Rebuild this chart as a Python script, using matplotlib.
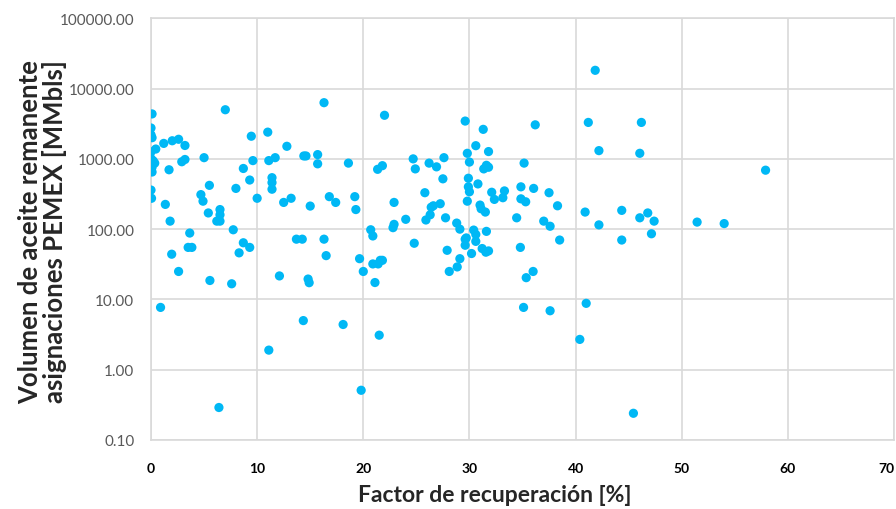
import numpy as np
import matplotlib.pyplot as plt
from matplotlib.ticker import FixedLocator, NullLocator

# Factor de recuperacion [%] vs volumen remanente [MMbls]
factor = [
    0.1, 0.0, 0.0, 0.1, 1.2, 2.0, 2.6, 3.2, 0.45, 0.0,
    0.0, 0.2, 0.0, 0.35, 0.0, 0.1, 0.0, 0.1, 1.7, 3.2,
    2.9, 5.0, 0.0, 0.05, 1.35, 5.5, 4.7, 4.9, 1.8, 5.4,
    6.5, 6.5, 6.2, 6.5, 7.0, 3.65, 7.75, 3.5, 3.85, 1.95,
    2.6, 0.9, 6.4, 5.55, 7.6, 8.0, 9.45, 11.0, 12.8, 9.6,
    8.7, 9.3, 11.1, 11.7, 14.4, 14.6, 15.7, 15.7, 11.4, 11.4,
    11.4, 10.0, 12.5, 13.2, 15.0, 16.8, 17.4, 8.7, 8.3, 9.3,
    13.7, 14.25, 16.3, 16.5, 12.1, 14.8, 14.9, 14.35, 11.1, 16.3,
    22.0, 29.6, 31.3, 30.6, 31.8, 29.8, 30.0, 18.6, 21.35, 21.8,
    24.7, 24.9, 26.2, 26.9, 27.6, 27.5, 31.35, 31.6, 31.8, 29.9,
    30.8, 29.9, 30.0, 29.8, 32.1, 32.35, 33.15, 33.3, 34.85, 34.85,
    35.3, 25.8, 22.9, 19.2, 19.3, 27.25, 26.6, 26.4, 26.3, 25.9,
    24.0, 22.9, 22.8, 27.75, 28.8, 31.0, 31.1, 31.5, 34.45, 19.65,
    20.0, 20.7, 20.9, 20.9, 21.4, 21.6, 21.8, 21.1, 18.1, 21.5,
    19.8, 24.8, 27.9, 28.1, 28.85, 29.1, 29.1, 29.7, 29.6, 29.6,
    30.2, 30.4, 30.6, 30.6, 31.2, 31.55, 31.8, 31.6, 34.8, 41.85,
    36.2, 41.2, 46.2, 42.2, 46.05, 35.15, 36.05, 37.5, 38.3, 37.0,
    37.6, 40.9, 42.2, 44.35, 46.05, 46.8, 47.4, 51.45, 36.0, 35.35,
    38.5, 44.35, 47.15, 35.1, 37.6, 41.0, 40.4, 45.45, 57.9, 54.0,
]
volumen = [
    4360, 2750, 2200, 2000, 1660, 1810, 1900, 1550, 1380, 1260,
    1010, 940, 900, 870, 810, 760, 680, 650, 700, 980,
    910, 1040, 360, 275, 225, 420, 310, 250, 130, 170,
    190, 160, 130, 130, 5000, 88, 98, 55, 55, 44,
    25, 7.7, 0.29, 18.6, 16.7, 380, 2100, 2400, 1510, 945,
    730, 500, 945, 1040, 1100, 1100, 1150, 850, 540, 460,
    370, 275, 240, 275, 213, 290, 240, 64, 46, 55,
    72, 72, 72, 42, 21.6, 19.5, 17.3, 5.0, 1.9, 6300,
    4170, 3450, 2630, 1540, 1270, 1200, 900, 870, 710, 800,
    1000, 720, 870, 770, 1040, 520, 720, 810, 760, 530,
    440, 400, 340, 250, 335, 265, 280, 350, 400, 270,
    245, 330, 240, 290, 190, 230, 215, 205, 160, 135,
    138, 117, 105, 145, 122, 220, 195, 175, 145, 38,
    25, 98, 80, 32, 32, 36, 36, 17.4, 4.4, 3.1,
    0.51, 63, 50, 25, 29, 38, 100, 75, 72, 59,
    45, 97, 84, 67, 53, 47, 49, 93, 55, 18200,
    3050, 3300, 3300, 1310, 1200, 870, 380, 330, 215, 130,
    110, 175, 115, 185, 145, 170, 130, 126, 25, 20.4,
    70, 70, 86, 7.7, 6.9, 8.8, 2.7, 0.24, 690, 120,
]

x_ticks = [0, 10, 20, 30, 40, 50, 60, 70]
y_ticks = [0.1, 1, 10, 100, 1000, 10000, 100000]
y_tick_labels = ['0.10', '1.00', '10.00', '100.00', '1000.00', '10000.00', '100000.00']

fnt = ['Lato', 'DejaVu Sans']

fig = plt.figure(figsize=(8.96, 5.10), dpi=100)
ax = fig.add_axes([151 / 896, 1 - 441 / 510, 743 / 896, (441 - 19.3) / 510])

ax.scatter(factor, volumen, s=44, color='#00B8F5', edgecolors='none', zorder=3)

ax.set_yscale('log')
ax.set_xlim(0, 70)
ax.set_ylim(0.1, 100000)
ax.xaxis.set_major_locator(FixedLocator(x_ticks))
ax.yaxis.set_major_locator(FixedLocator(y_ticks))
ax.yaxis.set_minor_locator(NullLocator())
ax.set_yticklabels(y_tick_labels, fontfamily=fnt, fontsize=11, color='#595959')
xlabels = ax.set_xticklabels([str(t) for t in x_ticks], fontfamily=fnt, fontsize=10,
                             fontweight='bold', color='black')
xlabels[-1].set_horizontalalignment('right')
ax.tick_params(axis='both', length=0)
ax.tick_params(axis='y', pad=12)
ax.tick_params(axis='x', pad=16)

ax.grid(True, color='#D9D9D9', linewidth=1.2, zorder=0)
ax.set_axisbelow(True)
for sp in ax.spines.values():
    sp.set_color('#D9D9D9')
    sp.set_linewidth(1.2)

ax.set_xlabel('Factor de recuperación [%]', fontfamily=fnt, fontsize=16.5,
              fontweight='bold', color='#262626')
ax.xaxis.set_label_coords((495 - 151) / 743, -0.105)
ax.set_ylabel('Volumen de aceite remanente\nasignaciones PEMEX [MMbls]',
              fontfamily=fnt, fontsize=18.5, fontweight='bold', color='#262626',
              linespacing=1.0)
ax.yaxis.set_label_coords(-0.113, (441 - 232) / (441 - 19.3))

fig.savefig('out.png', dpi=100)
plt.close(fig)
